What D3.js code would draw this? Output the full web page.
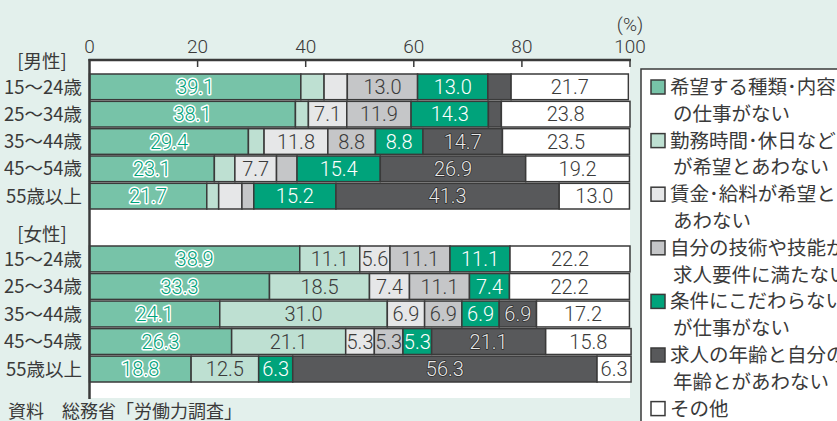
<!DOCTYPE html>
<html>
<head>
<meta charset="utf-8">
<script src="https://cdn.jsdelivr.net/npm/d3@7"></script>
<style>
  body { margin: 0; background: #e3f0ec; overflow: hidden; }
  svg { display: block; }
</style>
</head>
<body>
<script>
// data ====================================================================
var ages = ["15〜24歳", "25〜34歳", "35〜44歳", "45〜54歳", "55歳以上"]
var categories = [
    "希望する種類･内容の仕事がない",
    "勤務時間･休日などが希望とあわない",
    "賃金･給料が希望とあわない",
    "自分の技術や技能が求人要件に満たない",
    "条件にこだわらないが仕事がない",
    "求人の年齢と自分の年齢とがあわない",
    "その他"
]
var menValues = [
    [39.1, 4.3, 4.3, 13.0, 13.0, 4.3, 21.7],
    [38.1, 2.4, 7.1, 11.9, 14.3, 2.4, 23.8],
    [29.4, 2.9, 11.8, 8.8, 8.8, 14.7, 23.5],
    [23.1, 3.8, 7.7, 3.8, 15.4, 26.9, 19.2],
    [21.7, 2.2, 4.3, 2.2, 15.2, 41.3, 13.0]
]
var womenValues = [
    [38.9, 11.1, 5.6, 11.1, 11.1, 0, 22.2],
    [33.3, 18.5, 7.4, 11.1, 7.4, 0, 22.2],
    [24.1, 31.0, 6.9, 6.9, 6.9, 6.9, 17.2],
    [26.3, 21.1, 5.3, 5.3, 5.3, 21.1, 15.8],
    [18.8, 12.5, 0, 0, 6.3, 56.3, 6.3]
]
var xTicks = [0, 20, 40, 60, 80, 100]

// styles ==================================================================
var fills    = ["#77c3a8", "#bee0d2", "#e6e7e8", "#c5c6c8", "#00a37b", "#58595b", "#ffffff"]
var ink      = "#3a3a3a"
var jpFont   = "'Noto Sans CJK JP', 'Noto Sans', sans-serif"
var numFont  = "'Roboto', 'Noto Sans', sans-serif"

var W = 837, H = 421

var svg = d3.select("body").append("svg")
    .attr("width", W)
    .attr("height", H)

var x = d3.scaleLinear().domain([0, 100]).range([89.5, 630])
var yMen = d3.scaleBand().domain(ages).range([74, 209]).paddingInner(0.06)
var yWomen = d3.scaleBand().domain(ages).range([246, 382]).paddingInner(0.06)

// plot panel
svg.append("rect")
    .attr("x", x(0)).attr("y", 60)
    .attr("width", x(100) - x(0)).attr("height", 338)
    .attr("fill", "#fff")

// stacked bars
function drawGroup(values, y) {
    var rows = values.map(function(v, i) {
        var acc = 0
        return v.map(function(d, k) {
            var seg = { age: ages[i], k: k, v: d, x0: acc, x1: acc + d }
            acc += d
            return seg
        })
    })
    var g = svg.append("g")
    var row = g.selectAll("g.row")
        .data(rows)
        .enter().append("g")
        .attr("transform", function(d, i) { return "translate(0," + y(ages[i]) + ")" })

    var seg = row.selectAll("g.seg")
        .data(function(d) { return d.filter(function(s) { return s.v > 0 }) })
        .enter().append("g")

    seg.append("rect")
        .attr("x", function(d) { return x(d.x0) })
        .attr("width", function(d) { return x(d.x1) - x(d.x0) })
        .attr("height", y.bandwidth())
        .attr("fill", function(d) { return fills[d.k] })
        .attr("stroke", ink)
        .attr("stroke-width", 1.5)

    seg.filter(function(d) { return d.v >= 5 })
        .append("text")
        .attr("x", function(d) { return (x(d.x0) + x(d.x1)) / 2 })
        .attr("y", y.bandwidth() / 2)
        .attr("dy", "0.36em")
        .attr("text-anchor", "middle")
        .attr("font-family", numFont)
        .attr("font-weight", 300)
        .attr("font-size", "20px")
        .attr("paint-order", "stroke")
        .attr("stroke-linejoin", "round")
        .attr("fill", function(d) {
            if (d.k == 0) return "#00a37b"
            if (d.k == 4) return "#ffffff"
            if (d.k == 5) return "#e8e8e8"
            return ink
        })
        .attr("stroke", function(d) {
            if (d.k == 0) return "#ffffff"
            if (d.k == 5) return "#2a2a2a"
            return "none"
        })
        .attr("stroke-width", function(d) { return d.k == 0 ? 3 : 1.5 })
        .text(function(d) { return d.v.toFixed(1) })

    // row labels
    g.selectAll("text.age")
        .data(ages)
        .enter().append("text")
        .attr("x", 82)
        .attr("y", function(d) { return y(d) + y.bandwidth() / 2 })
        .attr("dy", "0.36em")
        .attr("text-anchor", "end")
        .attr("font-family", jpFont)
        .attr("font-size", "18.5px")
        .attr("fill", ink)
        .text(function(d) { return d })
}
drawGroup(menValues, yMen)
drawGroup(womenValues, yWomen)

// group headers
svg.append("text").attr("x", 42).attr("y", 61).attr("dy", "0.36em")
    .attr("text-anchor", "middle").attr("font-family", jpFont).attr("font-size", "18.5px")
    .attr("fill", ink).text("[男性]")
svg.append("text").attr("x", 42).attr("y", 234).attr("dy", "0.36em")
    .attr("text-anchor", "middle").attr("font-family", jpFont).attr("font-size", "18.5px")
    .attr("fill", ink).text("[女性]")

// top axis
var axis = svg.append("g")
axis.append("line")
    .attr("x1", x(0) - 1).attr("x2", x(100) + 1)
    .attr("y1", 60).attr("y2", 60)
    .attr("stroke", ink).attr("stroke-width", 2.5)
axis.append("line")
    .attr("x1", x(0)).attr("x2", x(0))
    .attr("y1", 59).attr("y2", 399)
    .attr("stroke", ink).attr("stroke-width", 2.5)
axis.selectAll("line.tick")
    .data(xTicks.slice(1))
    .enter().append("line")
    .attr("x1", function(d) { return x(d) }).attr("x2", function(d) { return x(d) })
    .attr("y1", 60).attr("y2", 67)
    .attr("stroke", ink).attr("stroke-width", 1.5)
axis.selectAll("text.tick")
    .data(xTicks)
    .enter().append("text")
    .attr("x", function(d) { return x(d) })
    .attr("y", 53)
    .attr("text-anchor", "middle")
    .attr("font-family", numFont)
    .attr("font-weight", 300)
    .attr("font-size", "19px")
    .attr("fill", ink)
    .text(function(d) { return d })
axis.append("text")
    .attr("x", x(100)).attr("y", 31)
    .attr("text-anchor", "middle")
    .attr("font-family", numFont)
    .attr("font-weight", 300)
    .attr("font-size", "19px")
    .attr("fill", ink)
    .text("(%)")

// legend
var legend = svg.append("g")
legend.append("rect")
    .attr("x", 641).attr("y", 69)
    .attr("width", 220).attr("height", 380)
    .attr("fill", "#fff")
    .attr("stroke", ink).attr("stroke-width", 1.5)

var lineH = 26.8, line = 0
categories.forEach(function(c, k) {
    var parts = c.length > 9 ? [c.slice(0, 9), c.slice(9)] : [c]
    var cy = 87 + line * lineH
    legend.append("rect")
        .attr("x", 651).attr("y", cy - 7)
        .attr("width", 14).attr("height", 14)
        .attr("fill", fills[k])
        .attr("stroke", ink).attr("stroke-width", 1.5)
    parts.forEach(function(p, j) {
        legend.append("text")
            .attr("x", 670 + (j > 0 ? 3 : 0))
            .attr("y", cy + j * lineH)
            .attr("dy", "0.36em")
            .attr("font-family", jpFont)
            .attr("font-size", "19.5px")
            .attr("fill", ink)
            .text(p)
    })
    line += parts.length
})

// source
svg.append("text")
    .attr("x", 8).attr("y", 412)
    .attr("dy", "0.36em")
    .attr("font-family", jpFont)
    .attr("font-size", "18px")
    .attr("fill", ink)
    .text("資料　総務省「労働力調査」")
</script>
</body>
</html>
